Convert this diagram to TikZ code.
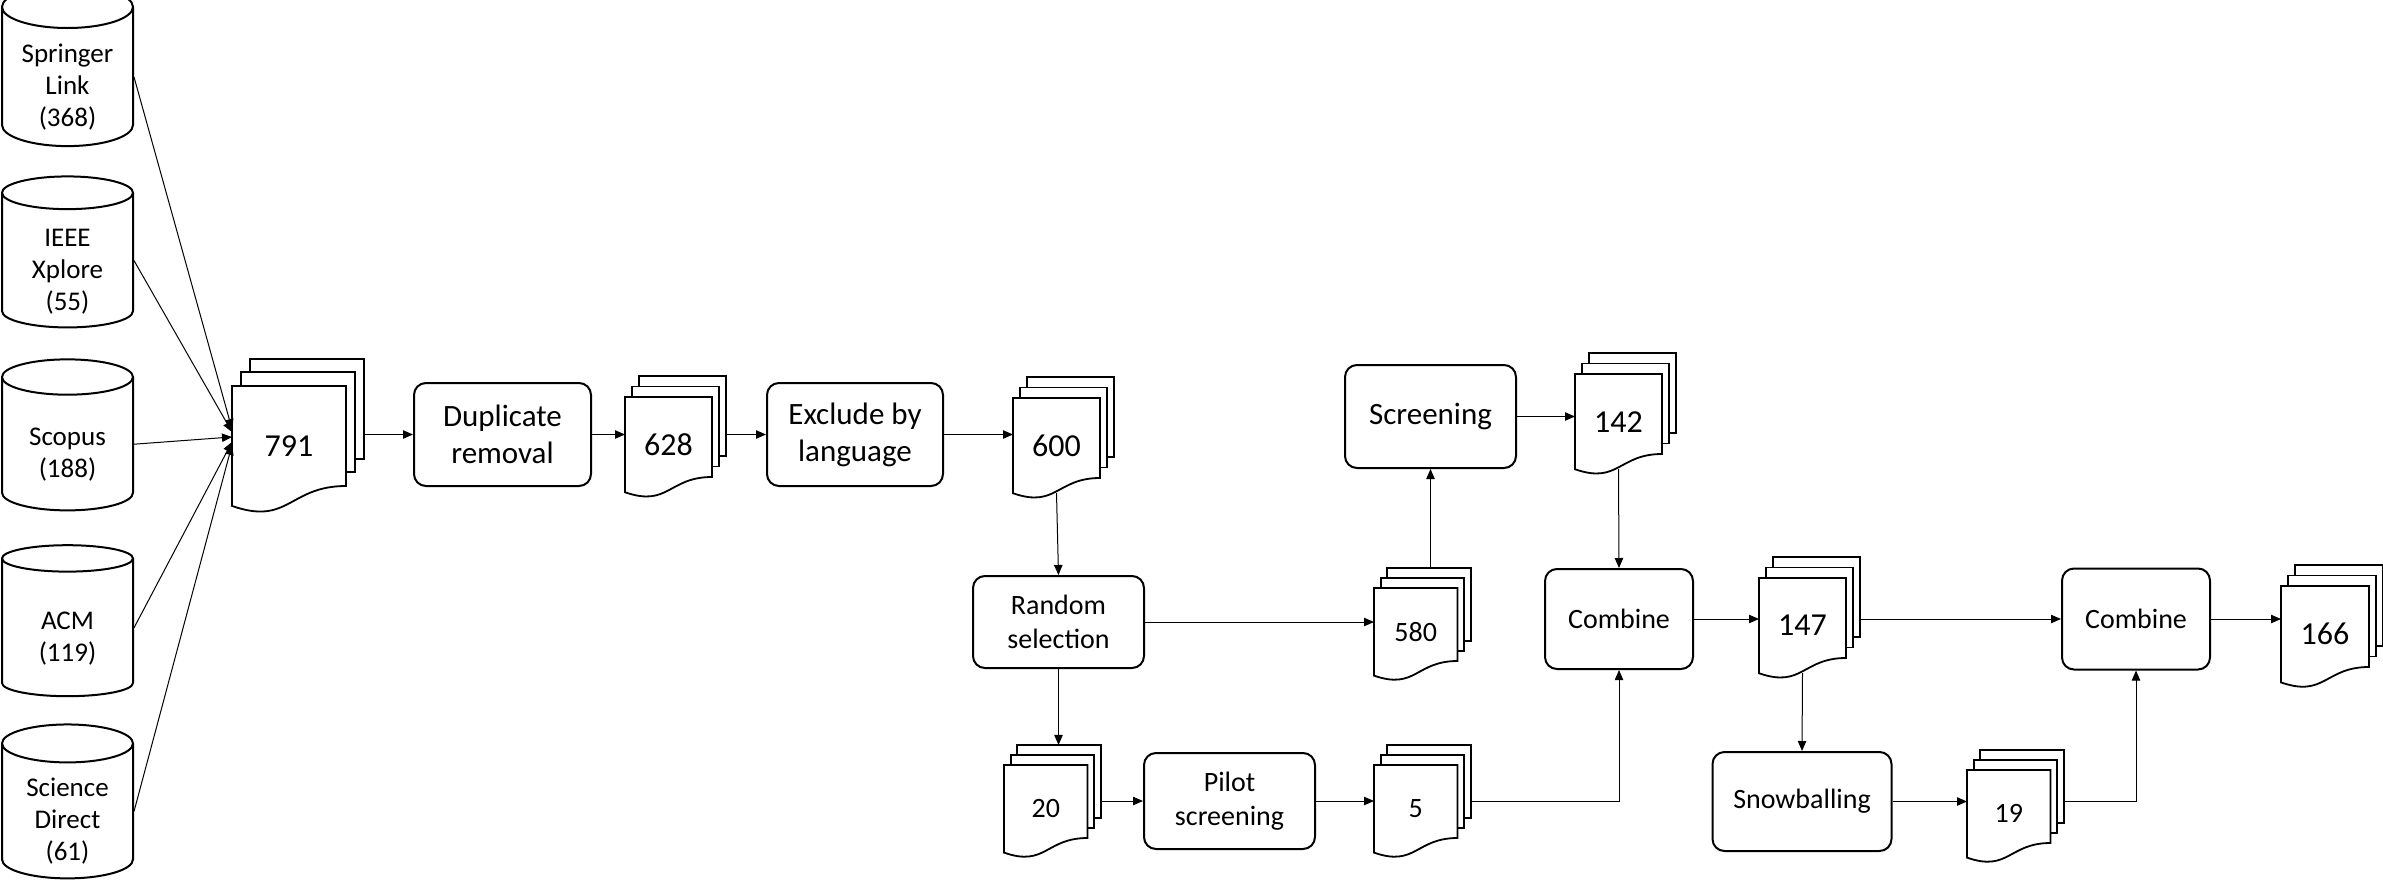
\documentclass[tikz,border=0pt]{standalone}
\usepackage{fontspec}
\setmainfont{Carlito}
\usepackage{tikz}
\usetikzlibrary{shapes.geometric, arrows.meta}
\newcommand{\px}{0.5pt}
\newcommand{\bignum}{\fontsize{16}{19}\selectfont}
\newcommand{\smallnum}{\fontsize{14}{17}\selectfont}
\newcommand{\bigtask}{\fontsize{15.5}{18.5}\selectfont}
\newcommand{\smalltask}{\fontsize{14}{17}\selectfont}
\newcommand{\dbtext}[1]{\raisebox{-5.5pt}[\height][\depth]{\begin{tabular}{@{}c@{}}#1\end{tabular}}}
\tikzset{
    x=\px, y=-\px,
    common/.style={draw, line width=1pt, align=center, inner sep=0pt},
    task/.style={common, rounded corners=6pt},
    source/.style={common, cylinder, shape border rotate=90, aspect=0.46, minimum width=131*\px, minimum height=151*\px, font=\fontsize{13.5}{16}\selectfont},
    sheet/.style={draw, fill=white, line width=0.9pt, inner sep=0pt, outer sep=0pt},
    pile/.style={inner sep=0pt, outer sep=0pt},
    link/.style={-{Triangle[length=5pt, width=4.2pt]}, line width=0.5pt}
}
% #1 name, #2 #3 top left of the front sheet, #4 width, #5 height, #6 font, #7 count
\newcommand{\docs}[7]{
    \pgfmathsetmacro{\sheetdx}{0.08*#4}
    \pgfmathsetmacro{\sheetdy}{0.12*#4}
    \node[sheet, anchor=north west, minimum width=#4*\px, minimum height=#5*\px] (#1-b) at (#2+2*\sheetdx, #3-2*\sheetdy) {};
    \node[sheet, anchor=north west, minimum width=#4*\px, minimum height=#5*\px] at (#2+\sheetdx, #3-\sheetdy) {};
    \draw[sheet] (#2,#3) -- ++(#4,0) -- ++(0,#5) .. controls +(-0.5*#4,0) and +(0.5*#4,0.175*#4) .. ++(-#4,0.175*#4) -- cycle;
    \node[pile, anchor=north west, minimum width=#4*\px, minimum height={(#5+0.175*#4)*\px}, font=#6] (#1) at (#2,#3) {#7};
}
\begin{document}
\begin{tikzpicture}
    \useasboundingbox (0,0) rectangle (2383,889);

    % libraries
    \foreach \name/\txt [count=\i from 0] in {springer/{Springer\\Link\\(368)}, ieee/{IEEE\\Xplore\\(55)}, scopus/{Scopus\\(188)}, acm/{ACM\\(119)}, sd/{Science\\Direct\\(61)}}
        \node[source] (\name) at (67.5, 77+183.6*\i) {\dbtext{\txt}};

    % documents
    \docs{d791}{232}{386}{114}{100}{\bignum}{791}
    \docs{d628}{625}{397}{87}{80}{\bignum}{628}
    \docs{d600}{1013}{398}{87}{80}{\bignum}{600}
    \docs{d580}{1374}{588}{83.5}{73}{\smallnum}{580}
    \docs{d20}{1004}{765}{83.5}{73}{\smallnum}{20}
    \docs{d5}{1374}{765}{83.5}{73}{\smallnum}{5}
    \docs{d142}{1575}{374}{87}{80}{\bignum}{142}
    \docs{d147}{1759}{578}{87}{80}{\bignum}{147}
    \docs{d19}{1967}{770}{83.5}{73}{\smallnum}{19}
    \docs{d166}{2281}{586}{88}{81}{\bignum}{166}

    % steps
    \node[task, minimum width=177*\px, minimum height=103*\px, font=\bigtask] (dup) at (502.5, 434.5) {Duplicate\\removal};
    \node[task, minimum width=176*\px, minimum height=103*\px, font=\bigtask] (lang) at (855, 434.5) {Exclude by\\language};
    \node[task, minimum width=171*\px, minimum height=92*\px, font=\smalltask] (rand) at (1058.5, 622) {Random\\selection};
    \node[task, minimum width=171*\px, minimum height=96*\px, font=\smalltask] (pilot) at (1229.5, 801) {Pilot\\screening};
    \node[task, minimum width=171*\px, minimum height=103*\px, font=\bigtask] (screen) at (1430.5, 416.5) {Screening};
    \node[task, minimum width=148*\px, minimum height=100*\px, font=\smalltask] (comb1) at (1619, 619) {Combine};
    \node[task, minimum width=179*\px, minimum height=99*\px, font=\smalltask] (snow) at (1802, 801.5) {Snowballing};
    \node[task, minimum width=148*\px, minimum height=101*\px, font=\smalltask] (comb2) at (2136, 619) {Combine};

    \foreach \name/\up in {springer/17, ieee/14, scopus/9, acm/4, sd/1}
        \draw[link] (\name.east) -- ([yshift=\up*\px]d791.west);
    \draw[link] (d791-b.east |- dup.west) -- (dup.west);
    \draw[link] (dup.east) -- (d628.west |- dup.east);
    \draw[link] (d628-b.east |- lang.west) -- (lang.west);
    \draw[link] (lang.east) -- (d600.west |- lang.east);
    \draw[link] (d600.south) -- (rand.north);
    \draw[link] (rand.east) -- (d580.west |- rand.east);
    \draw[link] (rand.south) -- (rand.south |- d20-b.north);
    \draw[link] (d20-b.east |- pilot.west) -- (pilot.west);
    \draw[link] (pilot.east) -- (d5.west |- pilot.east);
    \draw[link] (d5-b.east |- pilot.east) -| (comb1.south);
    \draw[link] (screen.south |- d580-b.north) -- (screen.south);
    \draw[link] (screen.east) -- (d142.west |- screen.east);
    \draw[link] (d142.south) -- (comb1.north);
    \draw[link] (comb1.east) -- (d147.west |- comb1.east);
    \draw[link] (d147-b.east |- comb1.east) -- (comb2.west);
    \draw[link] (d147.south) -- (snow.north);
    \draw[link] (snow.east) -- (d19.west |- snow.east);
    \draw[link] (d19-b.east |- snow.east) -| (comb2.south);
    \draw[link] (comb2.east) -- (d166.west |- comb2.east);
\end{tikzpicture}
\end{document}
